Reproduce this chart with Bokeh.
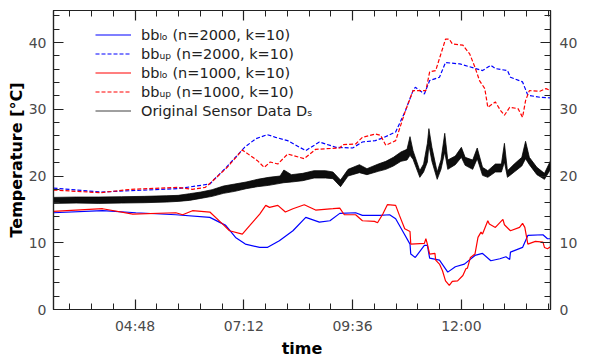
import pandas as pd
from bokeh.plotting import figure
from bokeh.models import (LinearAxis, DatetimeAxis, FixedTicker, DatetimeTickFormatter,
                          Legend, LegendItem, Range1d, ColumnDataSource, CustomLabelingPolicy)
from bokeh.embed import file_html
from bokeh.resources import INLINE

DAY = "2020-01-01 "

# ---------------- data ----------------
bbup2000_t = ["03:00", "04:02", "04:42", "05:44", "06:27", "06:31", "06:48", "07:13", "07:28", "07:43",
              "07:54", "08:10", "08:34", "08:52", "09:14", "09:36", "09:49", "10:06", "10:16", "10:33",
              "10:46", "10:56", "10:59", "11:11", "11:18", "11:31", "11:39", "11:58", "12:19", "12:28",
              "12:39", "12:45", "13:01", "13:05", "13:21", "13:28", "13:44", "13:58"]
bbup2000_v = [18.2, 17.6, 17.8, 18.1, 18.8, 19.3, 21.2, 24.3, 25.6, 26.2,
              25.8, 25.3, 23.8, 25.1, 24.3, 24.2, 25.1, 25.3, 25.7, 26.6,
              29.8, 32.8, 33.3, 32.3, 34.3, 34.8, 37.0, 36.8, 36.1, 35.8,
              36.6, 36.1, 35.8, 34.8, 34.1, 32.1, 31.8, 31.7]

bbup1000_t = ["03:00", "04:02", "04:42", "05:44", "06:04", "06:21", "06:31", "06:50", "07:10", "07:30",
              "07:39", "07:47", "07:57", "08:10", "08:32", "08:47", "09:19", "09:23", "09:40", "09:49",
              "10:06", "10:13", "10:20", "10:33", "10:46", "10:56", "11:13", "11:18", "11:26", "11:39",
              "11:44", "11:48", "12:02", "12:11", "12:18", "12:24", "12:31", "12:35", "12:45", "12:52",
              "12:57", "13:04", "13:15", "13:21", "13:25", "13:30", "13:44", "13:52", "13:58"]
bbup1000_v = [17.9, 17.5, 18.0, 18.3, 18.0, 18.3, 19.3, 21.3, 23.9, 22.3,
              21.3, 22.1, 21.8, 23.3, 22.6, 24.0, 24.2, 24.7, 24.8, 25.8,
              26.3, 26.1, 24.6, 25.3, 29.8, 32.8, 32.8, 35.6, 35.8, 40.5,
              40.5, 39.8, 39.6, 38.3, 36.3, 34.3, 33.1, 30.3, 31.1, 29.8,
              29.1, 30.3, 30.1, 28.8, 31.3, 32.8, 32.7, 33.1, 32.8]

bblo2000_t = ["03:00", "04:05", "04:49", "05:42", "06:27", "06:48", "07:01", "07:14", "07:33", "07:43",
              "07:59", "08:17", "08:34", "08:52", "09:06", "09:19", "09:40", "09:49", "10:12", "10:25",
              "10:33", "10:42", "10:52", "10:53", "10:59", "11:11", "11:15", "11:18", "11:31", "11:42",
              "11:52", "12:04", "12:18", "12:28", "12:39", "12:51", "12:59", "13:04", "13:05", "13:21",
              "13:28", "13:48", "13:54", "13:58"]
bblo2000_v = [14.5, 14.8, 14.5, 14.2, 13.8, 12.6, 10.8, 9.8, 9.3, 9.3,
              10.3, 11.8, 13.8, 13.1, 13.3, 14.4, 14.5, 14.1, 14.1, 14.2,
              13.6, 11.8, 9.8, 8.3, 7.8, 9.6, 9.6, 7.7, 7.4, 5.6,
              6.4, 6.8, 8.1, 8.4, 7.3, 7.6, 7.9, 7.5, 8.6, 9.3,
              11.1, 11.2, 10.6, 10.6]

bblo1000_t = ["03:00", "04:05", "04:45", "05:42", "05:51", "06:04", "06:27", "06:44", "06:53", "07:10",
              "07:20", "07:33", "07:41", "07:46", "07:57", "08:07", "08:17", "08:32", "08:47", "09:10",
              "09:19", "09:25", "09:40", "09:49", "10:05", "10:09", "10:16", "10:22", "10:33", "10:38",
              "10:45", "10:52", "10:53", "11:11", "11:13", "11:15", "11:18", "11:25", "11:26", "11:31",
              "11:35", "11:39", "11:44", "11:48", "11:55", "12:02", "12:06", "12:08", "12:12", "12:18",
              "12:22", "12:26", "12:28", "12:35", "12:37", "12:45", "12:55", "12:57", "13:05", "13:17",
              "13:21", "13:24", "13:28", "13:38", "13:48", "13:50", "13:54", "13:58"]
bblo1000_v = [14.7, 15.1, 14.3, 14.5, 14.2, 14.8, 14.6, 12.8, 11.8, 11.3,
              12.6, 14.3, 15.6, 15.3, 15.6, 14.6, 15.1, 15.7, 14.9, 15.1,
              15.2, 14.2, 14.2, 13.3, 13.2, 13.0, 14.3, 15.7, 15.6, 14.1,
              12.1, 11.7, 9.8, 9.9, 10.6, 9.8, 8.3, 8.4, 7.4, 6.8,
              5.8, 4.3, 3.6, 4.2, 4.3, 5.1, 6.1, 6.2, 7.8, 8.3,
              10.8, 11.6, 11.3, 13.3, 12.8, 12.3, 13.5, 12.7, 11.8, 12.3,
              12.9, 12.3, 9.8, 10.2, 10.1, 9.3, 9.1, 9.4]

# original sensor data: lower / upper edge of the noisy band
ds_t = ["03:00", "03:30", "04:00", "04:30", "05:00", "05:30", "05:45", "06:00", "06:15", "06:30",
        "06:45", "07:00", "07:15", "07:30", "07:45", "08:00", "08:05", "08:15", "08:30", "08:45",
        "09:00", "09:10", "09:20", "09:30", "09:45", "09:55", "10:10", "10:20", "10:30", "10:40",
        "10:48", "10:52", "10:56", "11:05", "11:10", "11:15", "11:17", "11:21", "11:28", "11:33",
        "11:38", "11:42", "11:52", "12:00", "12:05", "12:15", "12:21", "12:28", "12:35", "12:45",
        "12:53", "12:57", "13:01", "13:10", "13:20", "13:25", "13:30", "13:40", "13:50", "13:58"]
ds_lo = [15.9, 15.95, 15.9, 15.95, 16.0, 16.1, 16.2, 16.35, 16.65, 16.95,
         17.4, 17.7, 18.1, 18.4, 18.6, 18.9, 19.0, 19.1, 19.3, 19.7,
         19.7, 19.6, 18.4, 20.0, 20.5, 20.2, 20.7, 21.0, 21.5, 22.2,
         22.4, 23.1, 22.5, 19.8, 20.6, 22.1, 24.6, 22.2, 19.5, 21.0,
         23.6, 21.0, 21.7, 22.8, 21.6, 21.0, 22.6, 20.1, 19.8, 20.6,
         20.6, 22.1, 19.8, 20.6, 21.5, 22.6, 21.7, 20.2, 19.5, 21.0]
ds_hi = [16.8, 16.85, 16.85, 16.9, 16.95, 17.05, 17.1, 17.35, 17.6, 17.95,
         18.5, 18.8, 19.1, 19.5, 19.8, 20.0, 20.9, 20.2, 20.4, 20.8,
         20.8, 20.6, 19.4, 21.0, 21.7, 21.1, 21.8, 22.2, 22.8, 23.6,
         24.0, 25.9, 23.8, 20.8, 21.8, 24.9, 27.1, 24.3, 20.6, 22.4,
         26.4, 22.4, 23.0, 24.3, 22.8, 22.4, 24.2, 21.3, 20.8, 21.8,
         21.8, 24.9, 20.8, 21.8, 22.8, 25.2, 22.8, 21.3, 20.4, 22.3]

x_start, x_end = "03:00", "13:58"
y_start, y_end = 0, 44.8
major_x = ["04:48", "07:12", "09:36", "12:00"]
major_y = [0, 10, 20, 30, 40]
minor_y = [v for v in range(0, 46, 2)]

legend_labels = ["bbₗₒ (n=2000, k=10)", "bbᵤₚ (n=2000, k=10)",
                 "bbₗₒ (n=1000, k=10)", "bbᵤₚ (n=1000, k=10)",
                 "Original Sensor Data Dₛ"]


def T(s):
    return pd.Timestamp(DAY + s)


def ms(s):
    return T(s).value // 10**6


FONT = "DejaVu Sans"
TICK_COL = "#4a4a4a"

p = figure(frame_width=497, frame_height=299, x_axis_type="datetime", output_backend="svg",
           toolbar_location=None,
           x_range=Range1d(T(x_start).to_pydatetime(), T(x_end).to_pydatetime()),
           y_range=Range1d(y_start, y_end),
           min_border_left=53, min_border_right=37, min_border_top=10, min_border_bottom=48)
p.grid.visible = False
p.outline_line_color = "#222222"
p.outline_line_width = 1.2
p.background_fill_color = "white"
p.border_fill_color = "white"

# x ticks (every 144 min major, 28.8 min minor)
maj_ms = [ms(s) for s in major_x]
step = 28.8 * 60 * 1000
minor_ms = []
v = ms("02:24")
while v <= ms(x_end):
    if v >= ms(x_start):
        minor_ms.append(v)
    v += step
xticker = FixedTicker(ticks=maj_ms, minor_ticks=minor_ms)
yticker = FixedTicker(ticks=major_y, minor_ticks=minor_y)
fmt = DatetimeTickFormatter(hours="%H:%M", hourmin="%H:%M", minutes="%H:%M",
                            minsec="%H:%M", seconds="%H:%M", days="%H:%M")


def style_axis(ax):
    ax.axis_line_color = "#222222"
    ax.axis_line_width = 1.2
    ax.major_tick_line_color = "#222222"
    ax.minor_tick_line_color = "#222222"
    ax.major_tick_line_width = 1.2
    ax.minor_tick_line_width = 1.0
    ax.major_tick_in = 10
    ax.major_tick_out = 0
    ax.minor_tick_in = 6
    ax.minor_tick_out = 0
    ax.major_label_text_font = FONT
    ax.major_label_text_font_size = "14px"
    ax.major_label_text_color = TICK_COL
    ax.axis_label_text_font = FONT
    ax.axis_label_text_font_style = "bold"
    ax.axis_label_text_font_size = "16px"
    ax.axis_label_text_color = "black"


bx = p.xaxis[0]
bx.ticker = xticker
bx.formatter = fmt
style_axis(bx)
bx.axis_label = "time"
bx.major_label_standoff = 8
bx.axis_label_standoff = 2

ly = p.yaxis[0]
ly.ticker = yticker
style_axis(ly)
ly.axis_label = "Temperature [°C]"
ly.major_label_standoff = 7
ly.axis_label_standoff = 0

ry = LinearAxis(ticker=yticker)
style_axis(ry)
ry.major_label_standoff = 9
p.add_layout(ry, "right")

no_labels = CustomLabelingPolicy(code="""
const all = [...indices]
for (const i of all) { indices.unset(i) }
return indices
""")
tx = DatetimeAxis(ticker=xticker, formatter=fmt, major_label_policy=no_labels)
style_axis(tx)
tx.major_label_standoff = 0
tx.major_label_text_font_size = "0px"
p.add_layout(tx, "above")

# ---------------- data marks ----------------
ds_src = ColumnDataSource(dict(t=[T(s) for s in ds_t], lo=ds_lo, hi=ds_hi))
p.varea(x="t", y1="lo", y2="hi", source=ds_src, fill_color="black", fill_alpha=0.95)
p.line(x="t", y="lo", source=ds_src, line_color="black", line_width=1.0, line_alpha=0.75)
r_ds = p.line(x="t", y="hi", source=ds_src, line_color="black", line_width=1.0, line_alpha=0.75)

r1 = p.line([T(s) for s in bblo2000_t], bblo2000_v, line_color="blue", line_width=1.2)
r2 = p.line([T(s) for s in bbup2000_t], bbup2000_v, line_color="blue", line_width=1.2, line_dash="4 2")
r3 = p.line([T(s) for s in bblo1000_t], bblo1000_v, line_color="red", line_width=1.2)
r4 = p.line([T(s) for s in bbup1000_t], bbup1000_v, line_color="red", line_width=1.2, line_dash="4 2")

items = [LegendItem(label=lab, renderers=[r]) for lab, r in zip(legend_labels, [r1, r2, r3, r4, r_ds])]

leg = Legend(items=items, location=(42, 189), glyph_width=36, glyph_height=19,
             label_height=19, label_standoff=10, spacing=0, padding=0, margin=0,
             label_text_font=FONT, label_text_font_size="14.5px", label_text_color="#222222",
             border_line_color=None, background_fill_alpha=0)
p.add_layout(leg, "center")

open("out.html", "w").write(file_html(p, INLINE))
